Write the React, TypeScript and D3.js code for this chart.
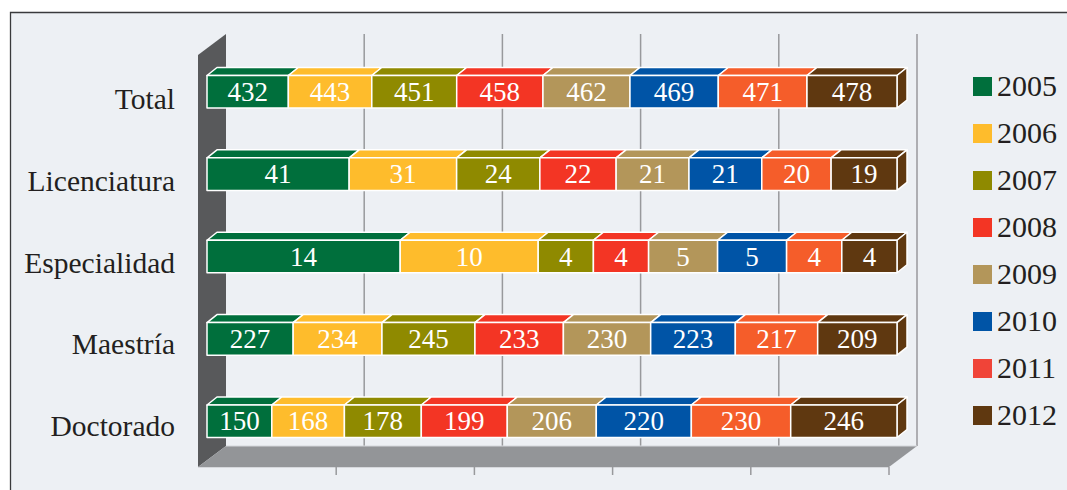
import { useMemo } from 'react';
import * as d3 from 'd3';

const W = 1067, H = 490;
const CATEGORIES = ['Total', 'Licenciatura', 'Especialidad', 'Maestría', 'Doctorado'];
const YEARS = ['2005', '2006', '2007', '2008', '2009', '2010', '2011', '2012'];
const V2005 = [432, 41, 14, 227, 150];
const V2006 = [443, 31, 10, 234, 168];
const V2007 = [451, 24, 4, 245, 178];
const V2008 = [458, 22, 4, 233, 199];
const V2009 = [462, 21, 5, 230, 206];
const V2010 = [469, 21, 5, 223, 220];
const V2011 = [471, 20, 4, 217, 230];
const V2012 = [478, 19, 4, 209, 246];
const SERIES = [V2005, V2006, V2007, V2008, V2009, V2010, V2011, V2012];
const BAR_COLORS = ['#006f3c', '#febc2c', '#8f8a00', '#f33524', '#b3965a', '#0054a6', '#f55d2a', '#5f3810'];
const LEGEND_COLORS = ['#006f3c', '#febc2c', '#8f8a00', '#f33524', '#b3965a', '#0054a6', '#f04438', '#5f3810'];
const TICKS = [0.2, 0.4, 0.6, 0.8, 1];

const FONT = '"Liberation Serif", serif';
const DEPTH_X = 10, DEPTH_Y = 8;
const WALL = { left: 198, right: 889, back: 28, top: 55, bottom: 467, rise: 21 };

export default function App() {
  const rows = useMemo(() => CATEGORIES.map((c, i) => {
    const r: any = { cat: c };
    YEARS.forEach((y, k) => { r[y] = SERIES[k][i]; });
    return r;
  }), []);
  const stacked = d3.stack().keys(YEARS).offset(d3.stackOffsetExpand)(rows);

  const x = d3.scaleLinear().domain([0, 1]).range([207, 897]);
  const y = d3.scaleBand().domain(CATEGORIES).range([75.5, 437.5]).paddingInner(0.605);
  const labelY = d3.scalePoint().domain(CATEGORIES).range([109, 436]);
  const xFront = d3.scaleLinear().domain([0, 1]).range([WALL.left, WALL.right]);
  const xBack = d3.scaleLinear().domain([0, 1]).range([WALL.left + WALL.back, WALL.right + WALL.back]);
  const legendY = d3.scalePoint().domain(YEARS).range([77, 406]);
  const bw = y.bandwidth();
  const floorY = WALL.bottom - WALL.rise;

  return (
    <svg width={W} height={H} style={{ position: 'absolute', left: 0, top: 0, fontFamily: FONT }}>
      <rect width={W} height={H} fill="#fff" />
      <rect x={10} y={12} width={W - 10} height={H - 12} fill="#edf0f4" />
      <path d={`M10.5,${H}V12.5H${W}`} fill="none" stroke="#3a3a3c" strokeWidth={1.3} />

      {TICKS.map(t => (
        <line key={t} x1={xBack(t)} x2={xBack(t)} y1={WALL.top - WALL.rise} y2={floorY} stroke="#98999c" strokeWidth={1.5} />
      ))}
      <polygon
        points={`${WALL.left},${WALL.top} ${WALL.left + WALL.back},${WALL.top - WALL.rise} ${WALL.left + WALL.back},${floorY} ${WALL.left},${WALL.bottom}`}
        fill="#58595b"
      />
      <polygon
        points={`${WALL.left},${WALL.bottom} ${WALL.left + WALL.back},${floorY} ${WALL.right + WALL.back},${floorY} ${WALL.right},${WALL.bottom}`}
        fill="#939598"
      />
      <line x1={WALL.left + WALL.back} x2={WALL.right + WALL.back} y1={floorY} y2={floorY} stroke="#d6d8dc" strokeWidth={1.2} />
      <line x1={WALL.left} x2={WALL.right} y1={WALL.bottom + 0.5} y2={WALL.bottom + 0.5} stroke="#d6d8dc" strokeWidth={1} />
      {TICKS.map(t => (
        <line key={t} x1={xFront(t)} x2={xFront(t)} y1={WALL.bottom} y2={WALL.bottom + 8} stroke="#98999c" strokeWidth={1.5} />
      ))}

      {CATEGORIES.map(c => (
        <text key={c} x={175} y={labelY(c)} textAnchor="end" fontSize={29.5} fill="#231f20">{c}</text>
      ))}

      {stacked.map((s, k) => (
        <g key={s.key} stroke="#fff" strokeWidth={1.5} strokeLinejoin="round" fill={BAR_COLORS[k]}>
          {s.map((d: any) => {
            const cat = d.data.cat;
            const x0 = x(d[0]), x1 = x(d[1]), y0 = y(cat)!;
            return (
              <g key={cat}>
                <polygon points={`${x0},${y0} ${x0 + DEPTH_X},${y0 - DEPTH_Y} ${x1 + DEPTH_X},${y0 - DEPTH_Y} ${x1},${y0}`} />
                {k === YEARS.length - 1 && (
                  <polygon points={`${x1},${y0} ${x1 + DEPTH_X},${y0 - DEPTH_Y} ${x1 + DEPTH_X},${y0 + bw - DEPTH_Y} ${x1},${y0 + bw}`} />
                )}
                <rect x={x0} y={y0} width={x1 - x0} height={bw} />
                <text x={(x0 + x1) / 2} y={y0 + bw / 2 + 9} textAnchor="middle" fontSize={27} fill="#fff" stroke="none">
                  {d.data[s.key]}
                </text>
              </g>
            );
          })}
        </g>
      ))}

      {YEARS.map((yr, k) => (
        <g key={yr}>
          <rect x={973} y={legendY(yr)} width={19} height={19} fill={LEGEND_COLORS[k]} />
          <text x={997} y={legendY(yr)! + 18.5} fontSize={30} fill="#231f20">{yr}</text>
        </g>
      ))}
    </svg>
  );
}
